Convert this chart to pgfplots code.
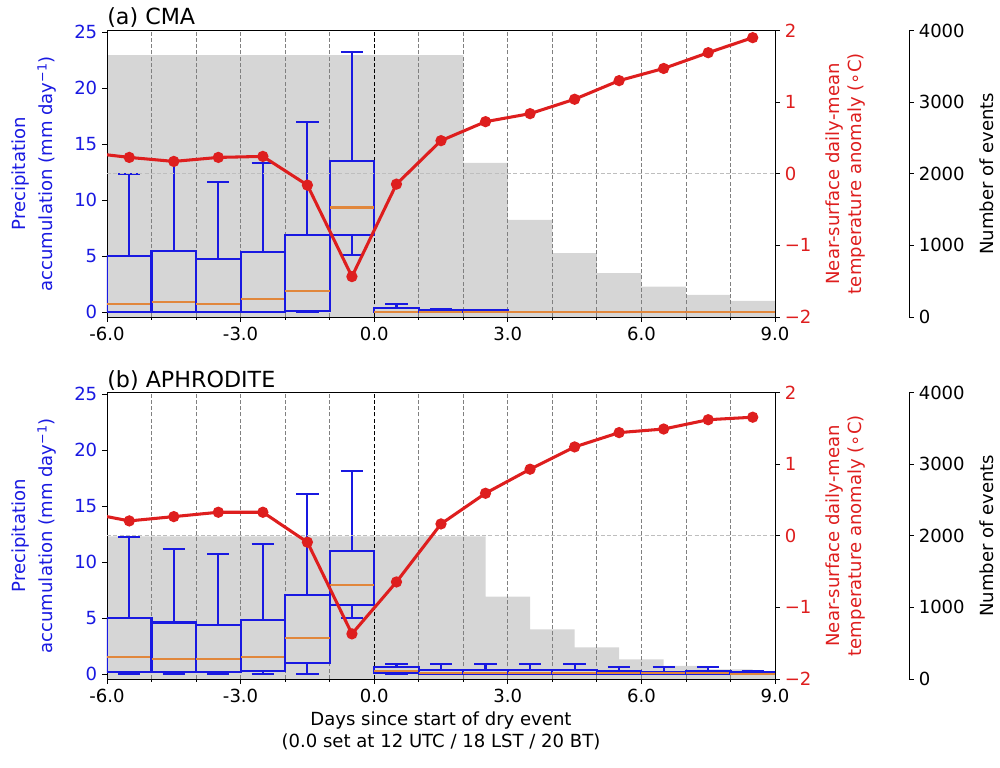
\documentclass[border=0pt]{standalone}
\usepackage{fontspec}
\setmainfont{DejaVu Sans}
\usepackage{pgfplots}
\pgfplotsset{compat=1.18}
\usepgfplotslibrary{statistics}
\definecolor{boxcol}{RGB}{25,25,225}
\definecolor{medcol}{RGB}{225,135,60}
\definecolor{tcol}{RGB}{222,30,30}
\definecolor{histcol}{RGB}{214,214,214}
\definecolor{gridcol}{RGB}{128,128,128}
\definecolor{hgridcol}{RGB}{190,190,190}

\pgfplotsset{
  base/.style={scale only axis, width=480.96pt, height=206.28pt, xmin=-6, xmax=9,
    font=\fontsize{13}{15.6}\selectfont, tick align=outside,
    major tick length=3.5pt, minor tick length=2pt,
    every tick/.style={black, line width=0.6pt}, axis line style={line width=0.6pt}},
  histax/.style={base, hide axis, ymin=0, ymax=4000},
  precax/.style={base, ymin=-0.45, ymax=25.15,
    xtick={-6,-3,0,3,6,9}, xticklabels={-6.0,-3.0,0.0,3.0,6.0,9.0},
    minor xtick={-5,-4,-2,-1,1,2,4,5,7,8},
    xtick pos=left, ytick pos=left,
    ytick={0,5,10,15,20,25}, yticklabels={0,5,10,15,20,25},
    yticklabel style={text=boxcol},
    ylabel={Precipitation\\[4pt]accumulation (mm day\textsuperscript{−1})},
    ylabel style={align=center, text=boxcol}, ylabel shift=6pt,
    xmajorgrids, xminorgrids,
    major grid style={dash pattern=on 3pt off 1.5pt, gridcol, line width=0.6pt},
    minor grid style={dash pattern=on 3pt off 1.5pt, gridcol, line width=0.6pt},
    boxplot/draw direction=y, boxplot/box extend=1, boxplot/whisker extend=0.5,
    boxplot/every median/.style={draw=medcol, line width=1.5pt}},
  tempax/.style={base, ymin=-2, ymax=2, axis y line*=right, axis x line=none,
    ytick={-2,-1,0,1,2}, yticklabels={−2,−1,0,1,2},
    yticklabel style={text=tcol},
    ylabel={Near-surface daily-mean\\temperature anomaly (∘C)},
    ylabel style={align=center, text=tcol}, ylabel shift=3.5pt},
  evax/.style={scale only axis, width=7.2pt, height=206.28pt, xmin=0, xmax=1,
    ymin=0, ymax=4000, axis y line*=right, axis x line=none,
    font=\fontsize{13}{15.6}\selectfont, tick align=outside,
    major tick length=3.5pt, every tick/.style={black, line width=0.6pt},
    axis line style={line width=0.6pt}, scaled y ticks=false,
    ytick={0,1000,2000,3000,4000}, yticklabels={0,1000,2000,3000,4000},
    ylabel={Number of events}, ylabel shift=4pt},
  bxs/.style={boxcol, line width=1.5pt, forget plot},
  tline/.style={tcol, line width=2.2pt, mark=*, mark size=2.9pt,
    mark options={solid, fill=tcol, draw=none}}
}
\newcommand{\bx}[6]{\addplot[bxs, boxplot prepared={draw position=#1, lower whisker=#2,
  lower quartile=#3, median=#4, upper quartile=#5, upper whisker=#6}] coordinates {};}

\begin{document}
\begin{tikzpicture}
\useasboundingbox (0,0) rectangle (720pt,552.96pt);

% ================= Panel (a) CMA =================
\begin{axis}[histax, at={(77.04pt,324.72pt)}, anchor=south west]
\addplot[fill=histcol, draw=none, const plot] coordinates {
 (-6,3655) (2,2150) (3,1357) (4,891) (5,611) (6,424) (7,308) (8,224) (9,224)} \closedcycle;
\end{axis}
\begin{axis}[precax, at={(77.04pt,324.72pt)}, anchor=south west]
\addplot[black, dash pattern=on 3pt off 1.5pt, line width=0.6pt, forget plot] coordinates {(0,-0.45) (0,25.15)};
% draw position, lower whisker, Q1, median, Q3, upper whisker
\bx{-5.5}{0}{0}{0.69}{4.97}{12.3}
\bx{-4.5}{0}{0}{0.92}{5.43}{13.45}
\bx{-3.5}{0}{0}{0.75}{4.72}{11.6}
\bx{-2.5}{0}{0}{1.14}{5.37}{13.3}
\bx{-1.5}{0}{0.05}{1.88}{6.87}{16.99}
\bx{-0.5}{5.1}{6.87}{9.33}{13.45}{23.25}
\bx{0.5}{0}{0}{0}{0.39}{0.69}
\bx{1.5}{0}{0}{0}{0.2}{0.22}
\bx{2.5}{0}{0}{0}{0.15}{0.2}
\bx{3.5}{0}{0}{0}{0}{0}
\bx{4.5}{0}{0}{0}{0}{0}
\bx{5.5}{0}{0}{0}{0}{0}
\bx{6.5}{0}{0}{0}{0}{0}
\bx{7.5}{0}{0}{0}{0}{0}
\bx{8.5}{0}{0}{0}{0}{0}
\end{axis}
\begin{axis}[tempax, at={(77.04pt,324.72pt)}, anchor=south west]
\addplot[hgridcol, dash pattern=on 3pt off 1.5pt, line width=0.6pt] coordinates {(-6,0) (9,0)};
\addplot[tline] coordinates {
 (-6.5,0.30) (-5.5,0.228) (-4.5,0.172) (-3.5,0.228) (-2.5,0.242) (-1.5,-0.159)
 (-0.5,-1.436) (0.5,-0.145) (1.5,0.462) (2.5,0.727) (3.5,0.839) (4.5,1.04)
 (5.5,1.30) (6.5,1.47) (7.5,1.69) (8.5,1.90)};
\end{axis}
\begin{axis}[evax, at={(647.28pt,324.72pt)}, anchor=south west]
\end{axis}
\node[anchor=base west, inner sep=0pt, font=\fontsize{16}{19}\selectfont] at (77.04pt,534.96pt) {(a) CMA};

% ================= Panel (b) APHRODITE =================
\begin{axis}[histax, at={(77.04pt,64.08pt)}, anchor=south west]
\addplot[fill=histcol, draw=none, const plot] coordinates {
 (-6,1990) (2.5,1150) (3.5,694) (4.5,443) (5.5,275) (6.5,182) (7.5,135) (8.5,88) (9,88)} \closedcycle;
\end{axis}
\begin{axis}[precax, at={(77.04pt,64.08pt)}, anchor=south west,
  xlabel={Days since start of dry event\\(0.0 set at 12 UTC / 18 LST / 20 BT)},
  xlabel style={align=center}]
\addplot[black, dash pattern=on 3pt off 1.5pt, line width=0.6pt, forget plot] coordinates {(0,-0.45) (0,25.15)};
\bx{-5.5}{0}{0.21}{1.55}{4.98}{12.2}
\bx{-4.5}{0}{0.15}{1.31}{4.6}{11.15}
\bx{-3.5}{0}{0.15}{1.31}{4.38}{10.73}
\bx{-2.5}{0}{0.27}{1.55}{4.83}{11.6}
\bx{-1.5}{0}{1.01}{3.25}{7.07}{16.07}
\bx{-0.5}{5.01}{6.17}{7.93}{10.97}{18.1}
\bx{0.5}{0}{0.06}{0.3}{0.6}{0.92}
\bx{1.5}{0}{0}{0.1}{0.36}{0.92}
\bx{2.5}{0}{0}{0.1}{0.36}{0.92}
\bx{3.5}{0}{0}{0.1}{0.36}{0.86}
\bx{4.5}{0}{0}{0.1}{0.36}{0.92}
\bx{5.5}{0}{0}{0.1}{0.27}{0.6}
\bx{6.5}{0}{0}{0.1}{0.18}{0.6}
\bx{7.5}{0}{0}{0.1}{0.27}{0.66}
\bx{8.5}{0}{0}{0}{0.15}{0.27}
\end{axis}
\begin{axis}[tempax, at={(77.04pt,64.08pt)}, anchor=south west]
\addplot[hgridcol, dash pattern=on 3pt off 1.5pt, line width=0.6pt] coordinates {(-6,0) (9,0)};
\addplot[tline] coordinates {
 (-6.5,0.327) (-5.5,0.207) (-4.5,0.267) (-3.5,0.328) (-2.5,0.328) (-1.5,-0.09)
 (-0.5,-1.37) (0.5,-0.645) (1.5,0.165) (2.5,0.593) (3.5,0.929) (4.5,1.24)
 (5.5,1.44) (6.5,1.49) (7.5,1.62) (8.5,1.655)};
\end{axis}
\begin{axis}[evax, at={(647.28pt,64.08pt)}, anchor=south west]
\end{axis}
\node[anchor=base west, inner sep=0pt, font=\fontsize{16}{19}\selectfont] at (77.04pt,273.6pt) {(b) APHRODITE};
\end{tikzpicture}
\end{document}
